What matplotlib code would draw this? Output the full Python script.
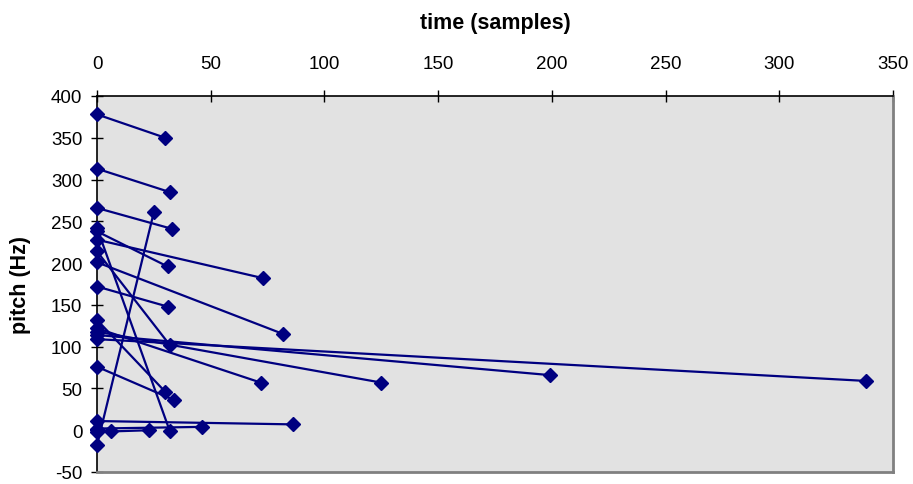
import matplotlib
matplotlib.use("Agg")
import matplotlib.pyplot as plt

# ---------------------------------------------------------------
# DATA: each segment runs from (start_time, start_pitch) to (end_time, end_pitch)
# ---------------------------------------------------------------
start_time = [0, 0, 0, 0, 0, 0, 0, 0, 0, 0, 0, 0, 0, 0, 0, 0, 0, 0, 0, 0]
start_pitch = [378, 313, 266, 242, 238, 228, 214, 201, 172, 132,
               122, 118, 114, 109, 76, -18, 11, 0, -2, 2]
end_time = [30, 32, 33, 32, 31, 73, 32, 82, 31, 30,
            72, 125, 199, 338, 34, 25, 86, 6, 23, 46]
end_pitch = [350, 285, 241, -1, 196, 182, 102, 115, 148, 46,
             57, 57, 66, 59, 36, 261, 7, -1, 0, 4]

x_ticks = [0, 50, 100, 150, 200, 250, 300, 350]
y_ticks = [-50, 0, 50, 100, 150, 200, 250, 300, 350, 400]

plt.rcParams['font.family'] = ['Liberation Sans', 'DejaVu Sans']
plt.rcParams['axes.unicode_minus'] = False

fig = plt.figure(figsize=(9.13, 4.85), dpi=100)
ax = fig.add_axes([97 / 913, 1 - 473 / 485, (893 - 97) / 913, (473 - 97) / 485])
ax.set_facecolor('#E2E2E2')

navy = '#000080'
for t0, p0, t1, p1 in zip(start_time, start_pitch, end_time, end_pitch):
    ax.plot([t0, t1], [p0, p1], color=navy, lw=1.6, marker='D', ms=7.5,
            mec=navy, mfc=navy, clip_on=False, zorder=3)

ax.set_xlim(0, 350)
ax.set_ylim(-50, 400)
ax.set_xticks(x_ticks)
ax.set_yticks(y_ticks)

# x axis drawn along the top, Excel style
ax.xaxis.tick_top()
ax.xaxis.set_label_position('top')
ax.tick_params(axis='both', direction='inout', length=9, width=1,
               labelsize=13.5, color='black')
ax.tick_params(axis='x', pad=13)
ax.tick_params(axis='y', pad=6)

ax.spines['top'].set_color('black')
ax.spines['left'].set_color('black')
ax.spines['right'].set_color('#808080')
ax.spines['bottom'].set_color('#808080')
for s in ax.spines.values():
    s.set_linewidth(1.2)
ax.spines['right'].set_linewidth(2)
ax.spines['bottom'].set_linewidth(2)

ax.set_xlabel('time (samples)', fontsize=15.5, fontweight='bold', labelpad=19)
ax.set_ylabel('pitch (Hz)', fontsize=15.5, fontweight='bold', labelpad=14)

plt.savefig('out.png', dpi=100)
plt.close()
